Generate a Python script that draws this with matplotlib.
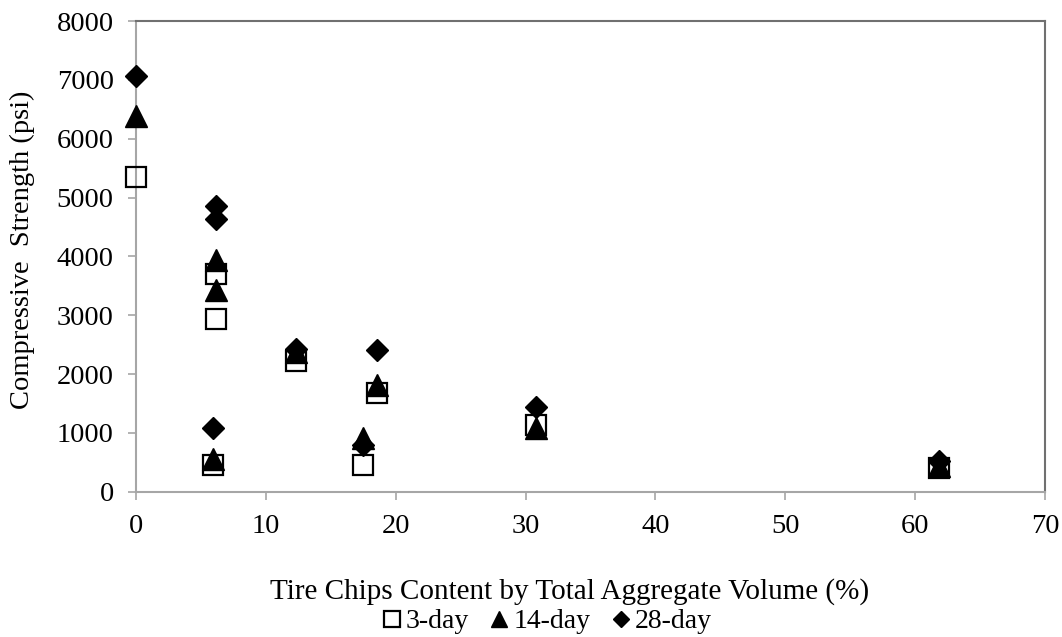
import matplotlib.pyplot as plt

plt.rcParams['font.family'] = ['Liberation Serif', 'DejaVu Serif']

# tire chips content (%) for each mix
chips = [0, 6.2, 6.2, 5.9, 12.3, 17.5, 18.6, 30.8, 61.8]

# compressive strength (psi)
day3 = [5350, 3700, 2940, 460, 2230, 460, 1680, 1140, 400]
day14 = [6390, 3940, 3430, 560, 2380, 920, 1820, 1090, 430]
day28 = [7070, 4860, 4640, 1090, 2420, 800, 2410, 1445, 520]

fig = plt.figure(figsize=(10.62, 6.37), dpi=100)
ax = fig.add_axes([0.128, 0.228, 0.856, 0.739])

ax.plot(chips, day28, 'D', color='black', markersize=11.5, linestyle='none',
        label='28-day', zorder=3, clip_on=False)
ax.plot(chips, day14, '^', color='black', markersize=16, linestyle='none',
        label='14-day', zorder=4, clip_on=False)
ax.plot(chips, day3, 's', markerfacecolor='none', markeredgecolor='black',
        markeredgewidth=1.6, markersize=15, linestyle='none', label='3-day',
        zorder=5, clip_on=False)

ax.set_xlim(0, 70)
ax.set_ylim(0, 8000)
ax.set_xticks(range(0, 71, 10))
ax.set_yticks(range(0, 8001, 1000))

for side in ['left', 'bottom']:
    ax.spines[side].set_color('#a6a6a6')
    ax.spines[side].set_linewidth(1.5)
for side in ['top', 'right']:
    ax.spines[side].set_color('#707070')
    ax.spines[side].set_linewidth(1.5)

ax.tick_params(axis='both', direction='out', length=6, width=1.2, color='#a6a6a6',
               labelsize=20.5, pad=10)

ax.set_xlabel('Tire Chips Content by Total Aggregate Volume (%)', fontsize=21)
ax.set_ylabel('Compressive  Strength (psi)', fontsize=20.5)
ax.xaxis.set_label_coords(0.477, -0.183)
ax.yaxis.set_label_coords(-0.111, 0.514)

h, l = ax.get_legend_handles_labels()
order = [2, 1, 0]
leg = fig.legend([h[i] for i in order], [l[i] for i in order],
                 loc='center', bbox_to_anchor=(0.513, 0.024), ncol=3, frameon=False,
                 fontsize=20, handletextpad=0.0, columnspacing=0.6, markerscale=0.75,
                 handlelength=1.0)

fig.savefig('out.png', dpi=100)
